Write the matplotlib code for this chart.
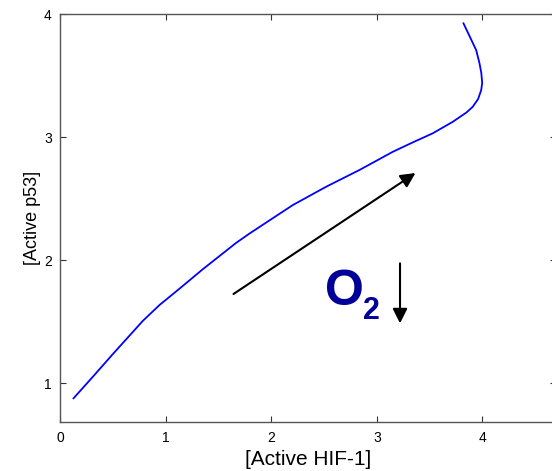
import matplotlib
matplotlib.use("Agg")
import matplotlib.pyplot as plt

# Trajectory
hif1 = [0.128, 0.311, 0.500, 0.784, 0.942, 1.116, 1.352, 1.669, 1.794, 2.205,
        2.521, 2.836, 3.152, 3.350, 3.530, 3.720, 3.850, 3.909, 3.960, 3.989,
        3.998, 3.990, 3.972, 3.941, 3.878, 3.821]
p53 = [0.876, 1.051, 1.235, 1.505, 1.634, 1.756, 1.925, 2.140, 2.215, 2.447,
       2.596, 2.732, 2.880, 2.960, 3.030, 3.124, 3.200, 3.246, 3.310, 3.382,
       3.440, 3.520, 3.602, 3.707, 3.821, 3.924]

xticks = [0, 1, 2, 3, 4]
yticks = [1, 2, 3, 4]

plt.rcParams['font.family'] = ['Liberation Sans', 'DejaVu Sans']

fig = plt.figure(figsize=(5.52, 4.71), dpi=100)
ax = fig.add_axes([60 / 552, 48.6 / 471, 496.3 / 552, 408.4 / 471])

ax.plot(hif1, p53, color='#0000ff', lw=1.3, solid_joinstyle='round')

ax.set_xlim(0, 4.7)
ax.set_ylim(0.68, 4.0)
ax.set_xticks(xticks)
ax.set_yticks(yticks)
ax.tick_params(direction='in', top=True, right=True, length=4, width=0.8,
               labelsize=10, color='#333333', pad=6)
for s in ax.spines.values():
    s.set_color('#555555')
    s.set_linewidth(1.0)

ax.set_xlabel('[Active HIF-1]', fontsize=15, labelpad=4)
ax.set_ylabel('[Active p53]', fontsize=13, labelpad=2)

# direction arrow along the curve
ax.annotate('', xy=(3.366, 2.707), xytext=(1.643, 1.724),
            arrowprops=dict(arrowstyle='-|>', color='black', lw=1.5,
                            mutation_scale=22, shrinkA=0, shrinkB=0))
# O2 decreasing arrow
ax.annotate('', xy=(3.22, 1.485), xytext=(3.22, 1.973),
            arrowprops=dict(arrowstyle='-|>', color='black', lw=1.5,
                            mutation_scale=22, shrinkA=0, shrinkB=0))

ax.text(2.51, 1.74, 'O', fontsize=36, fontweight='bold', color='#000099',
        ha='left', va='center')
ax.text(2.87, 1.585, '2', fontsize=22, fontweight='bold', color='#000099',
        ha='left', va='center')

fig.savefig('out.png', dpi=100)
